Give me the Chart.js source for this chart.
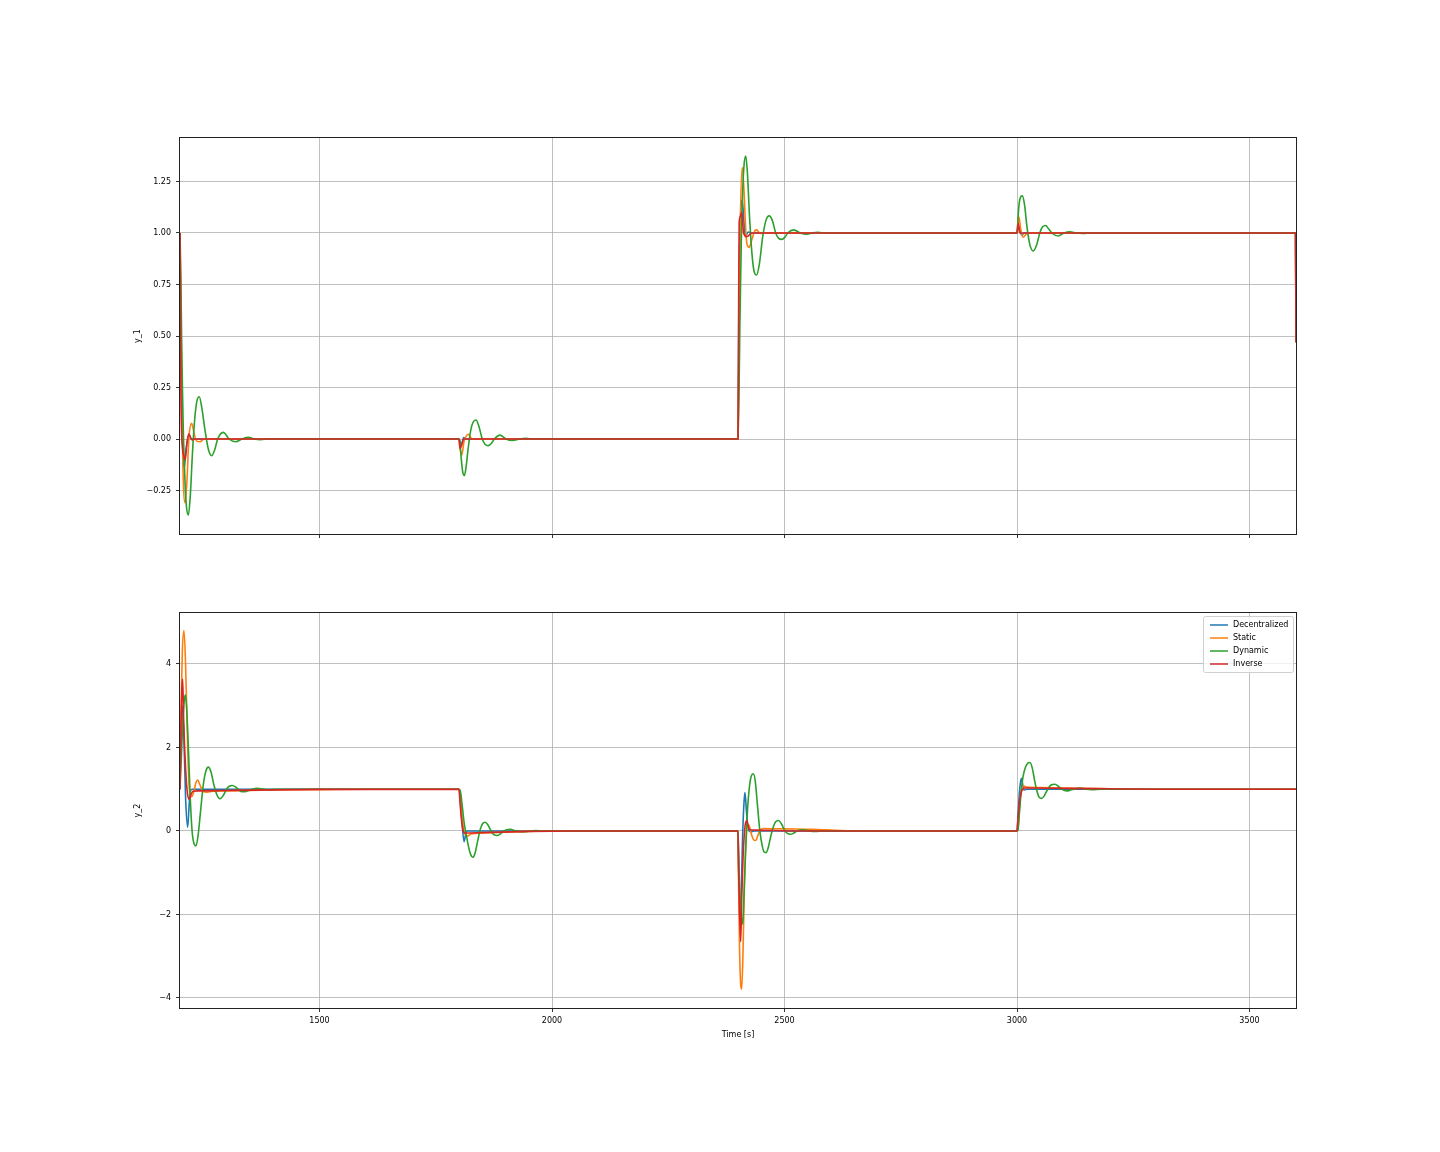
<!DOCTYPE html>
<html>
<head>
<meta charset="utf-8">
<script src="https://cdn.jsdelivr.net/npm/chart.js@4/dist/chart.umd.min.js"></script>
<style>
  body { margin: 0; background: #fff; }
  #wrap { position: relative; width: 1440px; height: 1152px; }
  canvas { position: absolute; left: 0; }
</style>
</head>
<body>
<div id="wrap">
  <canvas id="top" width="1440" height="574" style="top:0"></canvas>
  <canvas id="bottom" width="1440" height="578" style="top:574px"></canvas>
</div>
<script>
const seriesNames = ["Decentralized", "Static", "Dynamic", "Inverse"];
const colors = ["#1f77b4", "#ff7f0e", "#2ca02c", "#d62728"];

const xTicks = [1500, 2000, 2500, 3000, 3500];
const y1Ticks = [-0.25, 0, 0.25, 0.5, 0.75, 1.0, 1.25];
const y2Ticks = [-4, -2, 0, 2, 4];

// y_1 : [time, value]
const y1Decentralized = [[1200,1.0],[1203,0.3],[1206,-0.05],[1209,-0.14],[1213,-0.05],[1219,0.02],[1224,0.0],[1800,0],[1802,-0.01],[1805,-0.03],[1810,0.007],[1815,0],[2400,0],[2402,0.7],[2405,1.05],[2409,1.16],[2413,1.05],[2416,0.982],[2422,1.005],[2430,1.0],[3000,1.0],[3003,1.034],[3010,0.99],[3016,1.0],[3599,1.0],[3600,0.47]];
const y1Static = [[1200,1.0],[1203,0.4],[1206,-0.1],[1210.8,-0.31],[1215,-0.2],[1219,0.0],[1225,0.076],[1231,0.02],[1236,-0.01],[1243,-0.013],[1252,0],[1800,0],[1802,-0.04],[1805.8,-0.078],[1811,-0.01],[1816,0.015],[1820,0.023],[1826,0.005],[1832,0],[2400,0],[2402,0.5],[2405,1.05],[2409,1.319],[2413,1.2],[2417,1.0],[2420,0.94],[2424,0.93],[2430,0.97],[2436,1.01],[2440,1.015],[2448,0.998],[2460,1.0],[3000,1.0],[3002,1.05],[3004,1.079],[3008,1.02],[3013,0.979],[3018,0.99],[3025,1.0],[3599,1.0],[3600,0.47]];
const y1Dynamic = [[1200,1.0],[1202,0.75],[1204,0.4],[1207,0.05],[1211,-0.22],[1214,-0.33],[1218,-0.369],[1222,-0.28],[1227,-0.06],[1231,0.08],[1236,0.18],[1241.5,0.205],[1247,0.15],[1254,0.04],[1261,-0.05],[1268,-0.081],[1275,-0.05],[1281,0.0],[1293,0.032],[1306,0.0],[1320,-0.013],[1333,0],[1347,0.008],[1360,0],[1373,-0.003],[1390,0],[1800,0],[1802,-0.02],[1805,-0.1],[1808,-0.16],[1811.4,-0.178],[1815,-0.14],[1820,-0.04],[1825,0.04],[1830,0.08],[1836.6,0.092],[1843,0.06],[1850,0.0],[1856,-0.025],[1863,-0.032],[1870,-0.02],[1876,0],[1888,0.019],[1901,0],[1915,-0.007],[1930,0],[1944,0.003],[1960,0],[2400,0],[2402,0.2],[2404,0.55],[2407,0.95],[2410,1.2],[2413,1.33],[2416.6,1.374],[2420,1.3],[2425,1.07],[2430,0.9],[2435,0.81],[2440,0.796],[2446,0.85],[2453,0.98],[2460,1.06],[2467,1.083],[2474,1.06],[2481,1.0],[2487,0.975],[2494,0.969],[2501,0.98],[2507,1.0],[2520,1.015],[2534,1.0],[2548,0.994],[2560,1.0],[2571,1.003],[2590,1.0],[3000,1.0],[3003,1.1],[3005,1.15],[3008,1.175],[3011.5,1.18],[3016,1.14],[3022,1.02],[3028,0.94],[3035,0.913],[3042,0.94],[3049,1.0],[3055,1.03],[3061.7,1.036],[3068,1.02],[3075,1.0],[3088.8,0.985],[3101,1.0],[3114,1.006],[3128,1.0],[3141,0.998],[3160,1.0],[3599,1.0],[3600,0.47]];
const y1Inverse = [[1200,1.0],[1202,0.2],[1205.7,-0.05],[1208,-0.08],[1211,-0.1],[1215,-0.02],[1219,0.025],[1226,-0.005],[1232,0],[1800,0],[1802,-0.045],[1805,-0.035],[1810,0],[2400,0],[2401.5,0.7],[2402.5,1.05],[2405,1.08],[2408,1.10],[2412,1.0],[2419,0.982],[2430,1.0],[3000,1.0],[3002.7,1.047],[3006,1.0],[3599,1.0],[3600,0.47]];

// y_2 : [time, value]
const y2Decentralized = [[1200,1.0],[1202,2.2],[1205,3.0],[1208,2.4],[1212,0.8],[1216.5,0.09],[1219,0.5],[1222,0.95],[1226,1.0],[1800,1.0],[1802,0.95],[1806,0.3],[1810.8,-0.255],[1814,-0.1],[1817,0.0],[1822,0.0],[2400,0],[2401,-0.5],[2403,-1.8],[2405,-2.4],[2407,-1.5],[2410,-0.1],[2413,0.7],[2415,0.92],[2418,0.5],[2422,0.05],[2427,-0.02],[2435,0.0],[3000,0],[3002,0.3],[3005,0.9],[3008,1.2],[3010,1.26],[3013,1.05],[3016,0.98],[3022,1.0],[3600,1.0]];
const y2Static = [[1200,1.0],[1202,2.8],[1205,4.3],[1208.6,4.8],[1212,4.0],[1216,2.2],[1220,1.0],[1225,0.82],[1230,0.95],[1234,1.15],[1238,1.22],[1243,1.1],[1250,0.94],[1258,0.93],[1270,0.95],[1300,0.96],[1400,0.98],[1500,0.99],[1600,1.0],[1800,1.0],[1802,0.85],[1806,0.35],[1812,-0.05],[1819,-0.12],[1826,-0.07],[1850,-0.05],[1900,-0.03],[1950,-0.01],[2000,0],[2400,0],[2401,-1.0],[2403,-2.6],[2405,-3.5],[2408,-3.79],[2411,-2.8],[2414,-1.2],[2418,-0.1],[2421,0.15],[2424,0.13],[2428,-0.05],[2433,-0.2],[2438,-0.23],[2443,-0.1],[2448,0.03],[2455,0.06],[2500,0.05],[2560,0.04],[2620,0.01],[2700,0],[3000,0],[3002,0.05],[3005,0.5],[3008,0.9],[3011,1.05],[3014,1.08],[3020,1.05],[3050,1.04],[3100,1.03],[3200,1.01],[3300,1.0],[3600,1.0]];
const y2Dynamic = [[1200,1.0],[1203,1.8],[1206,2.6],[1209,3.1],[1211.5,3.26],[1214,3.0],[1218,2.0],[1222,0.8],[1226,0.0],[1230,-0.3],[1234.4,-0.36],[1239,-0.1],[1244,0.45],[1250,1.1],[1256,1.45],[1261,1.53],[1267,1.4],[1273,1.1],[1280,0.85],[1286,0.77],[1293,0.85],[1300,1.0],[1306,1.07],[1312.5,1.09],[1320,1.05],[1327,0.98],[1333,0.94],[1339.8,0.94],[1347,0.97],[1355,1.0],[1366,1.02],[1380,1.0],[1393,0.99],[1410,1.0],[1800,1.0],[1803,0.95],[1807,0.6],[1811,0.2],[1815,-0.05],[1820,-0.35],[1825,-0.56],[1829.5,-0.63],[1834,-0.55],[1840,-0.25],[1846,0.05],[1851,0.18],[1856,0.21],[1862,0.15],[1869,0.0],[1875,-0.09],[1882,-0.11],[1889,-0.07],[1896,0.0],[1909.7,0.04],[1923,0],[1937,-0.02],[1952,0],[1965,0.008],[1980,0],[2400,0],[2401,-0.4],[2403,-1.2],[2406,-1.9],[2408,-2.15],[2410,-2.23],[2413,-1.5],[2417,-0.3],[2421,0.6],[2425,1.1],[2429,1.33],[2433,1.37],[2437,1.2],[2442,0.6],[2447,0.0],[2452,-0.35],[2456,-0.5],[2460,-0.52],[2465,-0.4],[2470,-0.15],[2476,0.1],[2481,0.22],[2487,0.25],[2493,0.18],[2500,0.02],[2506,-0.06],[2513,-0.08],[2520,-0.05],[2527,0],[2540,0.03],[2553,0],[2567,-0.012],[2580,0],[2600,0.003],[2620,0],[3000,0],[3002,0.02],[3005,0.4],[3009,0.95],[3013,1.3],[3018,1.52],[3023,1.62],[3028,1.64],[3033,1.5],[3038,1.2],[3043,0.95],[3048,0.8],[3053,0.78],[3059,0.85],[3066,1.0],[3073,1.1],[3081.7,1.12],[3089,1.07],[3096,1.0],[3102,0.97],[3108,0.96],[3115,0.98],[3122,1.0],[3135,1.03],[3148,1.0],[3162,0.99],[3180,1.0],[3600,1.0]];
const y2Inverse = [[1200,1.0],[1202,2.5],[1204,3.4],[1205.7,3.64],[1208,2.6],[1212,1.5],[1216,0.9],[1220,0.76],[1224,0.88],[1228,0.95],[1240,0.96],[1300,0.97],[1400,0.985],[1500,0.995],[1800,1.0],[1802,0.7],[1806,0.2],[1810,-0.03],[1812,-0.05],[1850,-0.04],[1950,-0.01],[2050,0],[2400,0],[2401,-0.8],[2403,-1.8],[2405.8,-2.65],[2408,-1.6],[2411,-0.6],[2415,0.1],[2418.7,0.25],[2422,0.12],[2425,0.03],[2440,0.02],[2480,0.01],[2520,0],[3000,0],[3002,0.3],[3006,0.75],[3010,0.95],[3013,1.0],[3016,1.03],[3040,1.03],[3100,1.02],[3200,1.01],[3300,1.0],[3600,1.0]];

const FONT = { family: "'DejaVu Sans', sans-serif", size: 8 };
const minus = s => String(s).replace("-", "\u2212");

// matplotlib-style frame around the axes
const framePlugin = {
    id: "frame",
    afterDatasetsDraw(chart) {
        const a = chart.chartArea;
        const ctx = chart.ctx;
        ctx.save();
        ctx.strokeStyle = "#222";
        ctx.lineWidth = 1;
        ctx.strokeRect(Math.round(a.left) - 0.5, Math.round(a.top) - 0.5,
            Math.round(a.right - a.left) + 1, Math.round(a.bottom - a.top) + 1);
        ctx.restore();
    }
};

const legendPlugin = {
    id: "boxLegend",
    afterDraw(chart) {
        if (!chart.options.plugins.boxLegend.show) return;
        const a = chart.chartArea;
        const ctx = chart.ctx;
        const w = 90, h = 56;
        const x = a.right - 3 - w, y = a.top + 3;
        ctx.save();
        ctx.fillStyle = "rgba(255,255,255,0.8)";
        ctx.strokeStyle = "#d0d0d0";
        ctx.lineWidth = 1;
        ctx.beginPath();
        ctx.roundRect(x + 0.5, y + 0.5, w, h, 2);
        ctx.fill();
        ctx.stroke();
        ctx.font = FONT.size + "px " + FONT.family;
        ctx.textBaseline = "middle";
        seriesNames.forEach((name, i) => {
            const ry = y + 9 + i * 13;
            ctx.strokeStyle = colors[i];
            ctx.lineWidth = 1.5;
            ctx.beginPath();
            ctx.moveTo(x + 7, ry);
            ctx.lineTo(x + 25, ry);
            ctx.stroke();
            ctx.fillStyle = "#000";
            ctx.fillText(name, x + 30, ry);
        });
        ctx.restore();
    }
};

function makeChart(id, series, yTicks, yMin, yMax, yTitle, opts) {
    const datasets = series.map((pts, i) => ({
        label: seriesNames[i],
        data: pts.map(p => ({ x: p[0], y: p[1] })),
        borderColor: colors[i],
        borderWidth: 1.6,
        pointRadius: 0,
        fill: false,
        cubicInterpolationMode: "monotone",
        order: series.length - i
    }));

    return new Chart(document.getElementById(id), {
        type: "line",
        data: { datasets: datasets },
        plugins: [framePlugin, legendPlugin],
        options: {
            responsive: false,
            animation: false,
            devicePixelRatio: 1,
            layout: { padding: opts.padding },
            plugins: {
                legend: { display: false },
                tooltip: { enabled: false },
                boxLegend: { show: opts.legend }
            },
            scales: {
                x: {
                    type: "linear",
                    min: 1200,
                    max: 3600,
                    afterBuildTicks: s => { s.ticks = xTicks.map(v => ({ value: v })); },
                    afterFit: s => { s.height = opts.xHeight; },
                    border: { display: false },
                    grid: { color: "#b0b0b0", lineWidth: 0.8, tickLength: 4, tickColor: "#000", tickWidth: 0.8 },
                    ticks: { display: opts.xLabels, color: "#000", font: FONT, padding: 4, maxRotation: 0, callback: v => String(v) },
                    title: { display: opts.xLabels, text: "Time [s]", color: "#000", font: FONT, padding: { top: 0, bottom: 8 } }
                },
                y: {
                    type: "linear",
                    min: yMin,
                    max: yMax,
                    afterBuildTicks: s => { s.ticks = yTicks.map(v => ({ value: v })); },
                    afterFit: s => { s.width = 60; },
                    border: { display: false },
                    grid: { color: "#b0b0b0", lineWidth: 0.8, tickLength: 4, tickColor: "#000", tickWidth: 0.8 },
                    ticks: { color: "#000", font: FONT, padding: 5, callback: opts.fmt },
                    title: { display: true, text: yTitle, color: "#000", font: FONT, padding: { top: 13, bottom: 0 } }
                }
            }
        }
    });
}

makeChart("top", [y1Decentralized, y1Static, y1Dynamic, y1Inverse], y1Ticks, -0.461, 1.461, "y_1", {
    padding: { left: 120, right: 144, top: 138, bottom: 20 },
    xHeight: 20,
    xLabels: false,
    legend: false,
    fmt: v => minus(Number(v).toFixed(2))
});

makeChart("bottom", [y2Decentralized, y2Static, y2Dynamic, y2Inverse], y2Ticks, -4.24, 5.22, "y_2", {
    padding: { left: 120, right: 144, top: 39, bottom: 104 },
    xHeight: 40,
    xLabels: true,
    legend: true,
    fmt: v => minus(Math.round(v))
});
</script>
</body>
</html>
